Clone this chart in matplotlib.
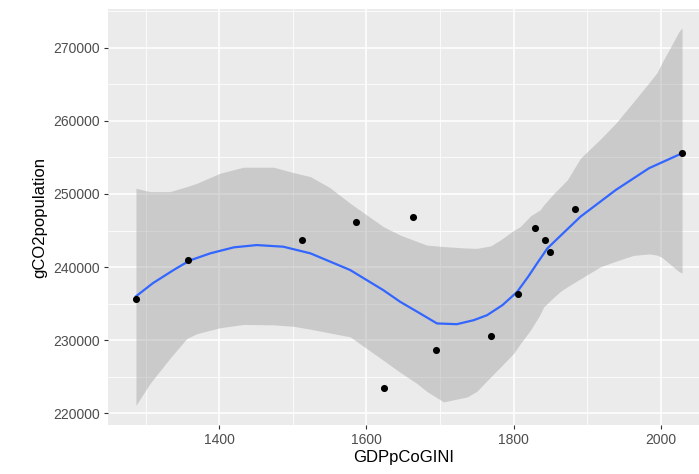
import matplotlib.pyplot as plt
from matplotlib.ticker import MultipleLocator

plt.rcParams['font.family'] = ['Liberation Sans', 'DejaVu Sans']

# observed points
gdp = [1287, 1358, 1512, 1586, 1624, 1664, 1694, 1770, 1806, 1829, 1843, 1849, 1884, 2029]
co2 = [235600, 240960, 243700, 246100, 223400, 246800, 228700, 230600, 236300, 245400,
       243700, 242100, 247900, 255600]

# loess fit
fit_x = [1287, 1310, 1338, 1360, 1388, 1420, 1451, 1487, 1524, 1578, 1623, 1646, 1669,
         1696, 1723, 1746, 1764, 1785, 1805, 1820, 1832, 1846, 1865, 1891, 1939, 1984, 2029]
fit_y = [236000, 237800, 239590, 240900, 241880, 242700, 243010, 242790, 241880, 239600,
         236850, 235250, 233900, 232290, 232190, 232740, 233420, 234800, 236620, 238700,
         240510, 242560, 244400, 246900, 250550, 253520, 255570]

# confidence band
band_x = [1287, 1306, 1333, 1356, 1370, 1401, 1433, 1474, 1501, 1524, 1550, 1578, 1623,
          1646, 1669, 1682, 1705, 1737, 1750, 1769, 1782, 1800, 1809, 1823, 1836, 1841,
          1855, 1864, 1873, 1891, 1918, 1939, 1963, 1984, 1995, 2002, 2025, 2029]
band_hi = [250780, 250320, 250320, 251000, 251470, 252830, 253660, 253660, 252920, 252370,
           250900, 248730, 245530, 244380, 243500, 243010, 242800, 242600, 242560, 242900,
           243700, 245000, 245520, 247000, 247810, 248500, 250100, 251000, 251920, 254900,
           257500, 259680, 262600, 265200, 266600, 268000, 272240, 272700]
band_lo = [221100, 224070, 227500, 230230, 230900, 231700, 232150, 232100, 231900, 231500,
           231000, 230460, 227260, 225600, 224070, 223000, 221560, 222240, 223000, 224980,
           226300, 228180, 229500, 231370, 233500, 234560, 235900, 236700, 237300, 238400,
           240040, 240800, 241600, 241800, 241640, 241300, 239360, 239200]

fig = plt.figure(figsize=(6.99, 4.74), dpi=100)
ax = fig.add_axes([108 / 699, 1 - 425 / 474, 591 / 699, 416 / 474])
ax.set_facecolor('#EBEBEB')

ax.fill_between(band_x, band_lo, band_hi, color='#999999', alpha=0.4, lw=0, zorder=2)
ax.plot(fit_x, fit_y, color='#3366FF', lw=1.6, zorder=3)
ax.scatter(gdp, co2, s=26, color='black', zorder=4, linewidths=0)

ax.set_xlim(1249, 2052)
ax.set_ylim(218400, 275300)
ax.xaxis.set_major_locator(MultipleLocator(200))
ax.xaxis.set_minor_locator(MultipleLocator(100))
ax.yaxis.set_major_locator(MultipleLocator(10000))
ax.yaxis.set_minor_locator(MultipleLocator(5000))
ax.grid(which='major', color='white', lw=1.1, zorder=1)
ax.grid(which='minor', color='white', lw=0.55, zorder=1)
ax.set_axisbelow(True)
for s in ax.spines.values():
    s.set_visible(False)
ax.tick_params(which='major', length=3, width=0.8, color='#333333',
               labelsize=10, labelcolor='#4D4D4D', pad=3)
ax.tick_params(which='minor', length=0)

ax.set_xlabel('GDPpCoGINI', fontsize=12, labelpad=2)
ax.set_ylabel('gCO2population', fontsize=12, labelpad=4)

fig.savefig('out.png', dpi=100)
